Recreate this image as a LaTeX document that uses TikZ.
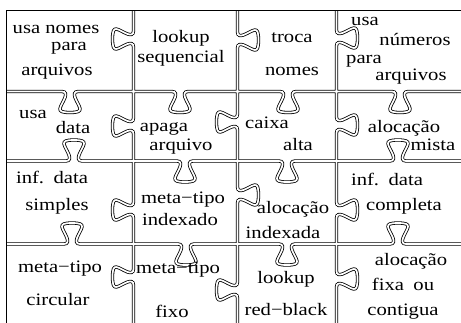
\documentclass[tikz,border=0pt]{standalone}
\usepackage{fontspec}
\setmainfont{Liberation Serif}
\usepackage{tikz}

% tab on a cut between rows: #1 centre x, #2 y, #3 = 1 down / -1 up
\newcommand\tabh[3]{-- ({#1-8},#2) .. controls ({#1-4},#2) and ({#1-4},{#2+3*#3}) .. ({#1-5},{#2+6*#3})
  .. controls ({#1-9},{#2+16*#3}) and ({#1-16},{#2+21*#3}) .. (#1,{#2+21*#3})
  .. controls ({#1+16},{#2+21*#3}) and ({#1+9},{#2+16*#3}) .. ({#1+5},{#2+6*#3})
  .. controls ({#1+4},{#2+3*#3}) and ({#1+4},#2) .. ({#1+8},#2)}
% tab on a cut between columns: #1 x, #2 centre y, #3 = 1 right / -1 left
\newcommand\tabv[3]{-- (#1,{#2-8}) .. controls (#1,{#2-4}) and ({#1+3*#3},{#2-4}) .. ({#1+6*#3},{#2-5})
  .. controls ({#1+16*#3},{#2-9}) and ({#1+21*#3},{#2-16}) .. ({#1+21*#3},#2)
  .. controls ({#1+21*#3},{#2+16}) and ({#1+16*#3},{#2+9}) .. ({#1+6*#3},{#2+5})
  .. controls ({#1+3*#3},{#2+4}) and (#1,{#2+4}) .. (#1,{#2+8})}

\begin{document}
\begin{tikzpicture}[x=1pt,y=-1pt]
  \tikzstyle{cut}=[draw=black,line width=0.8pt,double=white,double distance=1.7pt]
  \tikzstyle{frame}=[draw=black,line width=1pt]
  \tikzstyle{word}=[anchor=base,inner sep=0pt,font=\fontsize{17.5}{17.5}\selectfont,xscale=1.18]

  \useasboundingbox (0,0) rectangle (461,322);
  \clip (0,0) rectangle (461,322);

  % all cuts in one path
  \draw[cut] (6.5,91.5) \tabh{70}{91.5}{1} \tabh{180}{91.5}{1} \tabh{288}{91.5}{1} \tabh{400}{91.5}{1} -- (470,91.5)
    (6.5,161) \tabh{74}{161}{-1} \tabh{185}{161}{1} \tabh{287}{161}{1} \tabh{398}{161}{-1} -- (470,161)
    (6.5,244) \tabh{72}{244}{-1} \tabh{186}{244}{1} \tabh{287}{244}{1} \tabh{398}{244}{-1} -- (470,244)
    (133.5,10) \tabv{133.5}{39}{-1} \tabv{133.5}{126}{-1} \tabv{133.5}{210}{-1} \tabv{133.5}{277}{-1} -- (133.5,330)
    (237.5,10) \tabv{237.5}{40}{1} \tabv{237.5}{122}{-1} \tabv{237.5}{195}{1} \tabv{237.5}{290}{-1} -- (237.5,330)
    (336.5,10) \tabv{336.5}{38}{1} \tabv{336.5}{125}{1} \tabv{336.5}{210}{1} \tabv{336.5}{279}{1} -- (336.5,330);

  \draw[frame] (470,10) -- (6.5,10) -- (6.5,330);

  % row 1
  \node[word] (usanomes) at (56,33) {usa nomes};
  \node[word] (para1) at (69,50) {para};
  \node[word] (arquivos1) at (57,75) {arquivos};
  \node[word] (lookup1) at (181,42) {lookup};
  \node[word] (sequencial) at (181,62) {sequencial};
  \node[word] (troca) at (292,42) {troca};
  \node[word] (nomes) at (292,75) {nomes};
  \node[word] (usa1) at (365,25) {usa};
  \node[word] (numeros) at (415,45) {números};
  \node[word] (para2) at (364,63) {para};
  \node[word] (arquivos2) at (411,80) {arquivos};

  % row 2
  \node[word] (usa2) at (33,118) {usa};
  \node[word] (data1) at (73,133) {data};
  \node[word] (apaga) at (164,131) {apaga};
  \node[word] (arquivo) at (181,150) {arquivo};
  \node[word] (caixa) at (267,128) {caixa};
  \node[word] (alta) at (298,150) {alta};
  \node[word] (alocacao1) at (404,132) {alocação};
  \node[word] (mista) at (433,150) {mista};

  % row 3
  \node[word] (infdata1) at (52,183) {inf.\hspace{8pt}data};
  \node[word] (simples) at (57,210) {simples};
  \node[word] (metatipo1) at (183,203) {meta−tipo};
  \node[word] (indexado) at (180,225) {indexado};
  \node[word] (alocacao2) at (293,213) {alocação};
  \node[word] (indexada) at (283,238) {indexada};
  \node[word] (infdata2) at (387,185) {inf.\hspace{8pt}data};
  \node[word] (completa) at (404,210) {completa};

  % row 4
  \node[word] (metatipo2) at (60,272) {meta−tipo};
  \node[word] (circular) at (58,305) {circular};
  \node[word] (metatipo3) at (178,273) {meta−tipo};
  \node[word] (fixo) at (172,317) {fixo};
  \node[word] (lookup2) at (286,283) {lookup};
  \node[word] (redblack) at (286,315) {red−black};
  \node[word] (alocacao3) at (411,265) {alocação};
  \node[word] (fixaou) at (403,290) {fixa\hspace{8pt}ou};
  \node[word] (contigua) at (403,315) {contigua};
\end{tikzpicture}
\end{document}
